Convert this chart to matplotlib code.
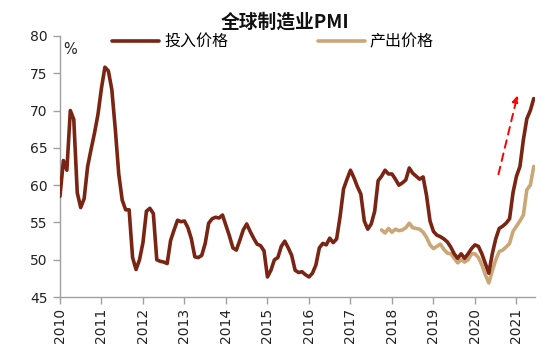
import numpy as np
import matplotlib
matplotlib.use("Agg")
import matplotlib.pyplot as plt

plt.rcParams['font.family'] = ['Noto Sans CJK SC', 'DejaVu Sans']

# monthly data, Jan 2010 onwards
START_YEAR = 2010
input_price = [
    58.5, 63.3, 62.0, 70.0, 68.8, 59.0, 57.0, 58.2, 62.5, 64.8, 67.0, 69.5,   # 2010
    73.0, 75.8, 75.3, 72.8, 67.5, 61.5, 58.0, 56.7, 56.7, 50.3, 48.7, 50.0,   # 2011
    52.3, 56.5, 56.9, 56.2, 50.0, 49.8, 49.7, 49.5, 52.6, 54.0, 55.3, 55.1,   # 2012
    55.2, 54.3, 52.8, 50.4, 50.3, 50.6, 52.2, 54.9, 55.5, 55.7, 55.6, 56.0,   # 2013
    54.6, 53.2, 51.6, 51.3, 52.6, 54.0, 54.8, 53.8, 52.9, 52.1, 51.9, 51.2,   # 2014
    47.7, 48.6, 50.0, 50.3, 51.8, 52.5, 51.6, 50.6, 48.6, 48.3, 48.4, 48.0,   # 2015
    47.7, 48.2, 49.3, 51.6, 52.2, 52.0, 52.9, 52.3, 52.8, 55.8, 59.5, 60.8,   # 2016
    62.0, 61.0, 59.8, 58.8, 55.2, 54.1, 54.8, 56.5, 60.6, 61.2, 62.0, 61.5,   # 2017
    61.5, 60.8, 60.0, 60.3, 60.7, 62.3, 61.6, 61.2, 60.8, 61.1, 58.6, 55.2,   # 2018
    53.8, 53.3, 53.1, 52.8, 52.4, 51.7, 50.8, 50.2, 50.8, 50.2, 50.8, 51.5,   # 2019
    52.0, 51.8, 50.8, 49.5, 48.2, 50.8, 52.8, 54.2, 54.5, 54.9, 55.5, 59.0,   # 2020
    61.2, 62.5, 66.1, 68.9, 70.0, 71.6,                                       # 2021
]
output_start = 93  # Oct 2017
output_price = [
    54.0, 53.6, 54.2,                                                         # 2017
    53.7, 54.1, 53.9, 54.0, 54.3, 54.9, 54.3, 54.2, 54.1, 53.7, 53.0, 52.0,   # 2018
    51.5, 51.8, 52.1, 51.4, 50.9, 50.8, 50.2, 49.6, 50.0, 49.7, 50.0, 50.8,   # 2019
    50.8, 50.3, 49.3, 48.0, 46.9, 48.5, 50.0, 51.1, 51.3, 51.7, 52.2, 53.8,   # 2020
    54.5, 55.2, 56.0, 59.4, 60.0, 62.5,                                       # 2021
]
years = list(range(2010, 2022))

x_in = START_YEAR + np.arange(len(input_price)) / 12
x_out = START_YEAR + (output_start + np.arange(len(output_price))) / 12

fig = plt.figure(figsize=(5.5, 3.55), dpi=100)
ax = fig.add_axes([0.109, 0.163, 0.864, 0.736])

ax.plot(x_in, input_price, color='#7A2413', lw=2.6, label='投入价格',
        solid_capstyle='round', zorder=3)
ax.plot(x_out, output_price, color='#CBA677', lw=2.6, label='产出价格',
        solid_capstyle='round', zorder=2)

# red dashed arrow
ax.annotate('', xy=(2021.04, 72.4), xytext=(2020.55, 61.1),
            arrowprops=dict(arrowstyle='-|>', color='#FF0000', lw=1.4,
                            linestyle=(0, (4, 3)), mutation_scale=10))

ax.set_xlim(2010, 2021 + 5.4 / 12)
ax.set_ylim(45, 80)
ax.set_yticks(range(45, 81, 5))
ax.set_xticks(years)
ax.set_xticklabels([str(y) for y in years], rotation=90)

for s in ['top', 'right']:
    ax.spines[s].set_visible(False)
for s in ['left', 'bottom']:
    ax.spines[s].set_color('#A0A0A0')
    ax.spines[s].set_linewidth(1.0)
ax.tick_params(axis='both', colors='#A0A0A0', labelcolor='#222222',
               length=5, width=1.0, labelsize=10, direction='out')
ax.tick_params(axis='y', pad=4)
ax.tick_params(axis='x', pad=3)
for lbl in ax.get_xticklabels() + ax.get_yticklabels():
    lbl.set_fontfamily('DejaVu Sans')

ax.text(0.006, 0.975, '%', transform=ax.transAxes, fontsize=10.5,
        va='top', ha='left', color='#222222', family='DejaVu Sans')

fig.text(0.518, 0.938, '全球制造业PMI', fontsize=13.5, fontweight='bold',
         ha='center', va='center', color='#111111')

ax.legend(loc='center left', bbox_to_anchor=(0.11, 0.978), ncol=2,
          frameon=False, fontsize=11.5, handlelength=2.95, handletextpad=0.3,
          columnspacing=5.6, borderaxespad=0, borderpad=0)

fig.savefig('out.png', dpi=100)
